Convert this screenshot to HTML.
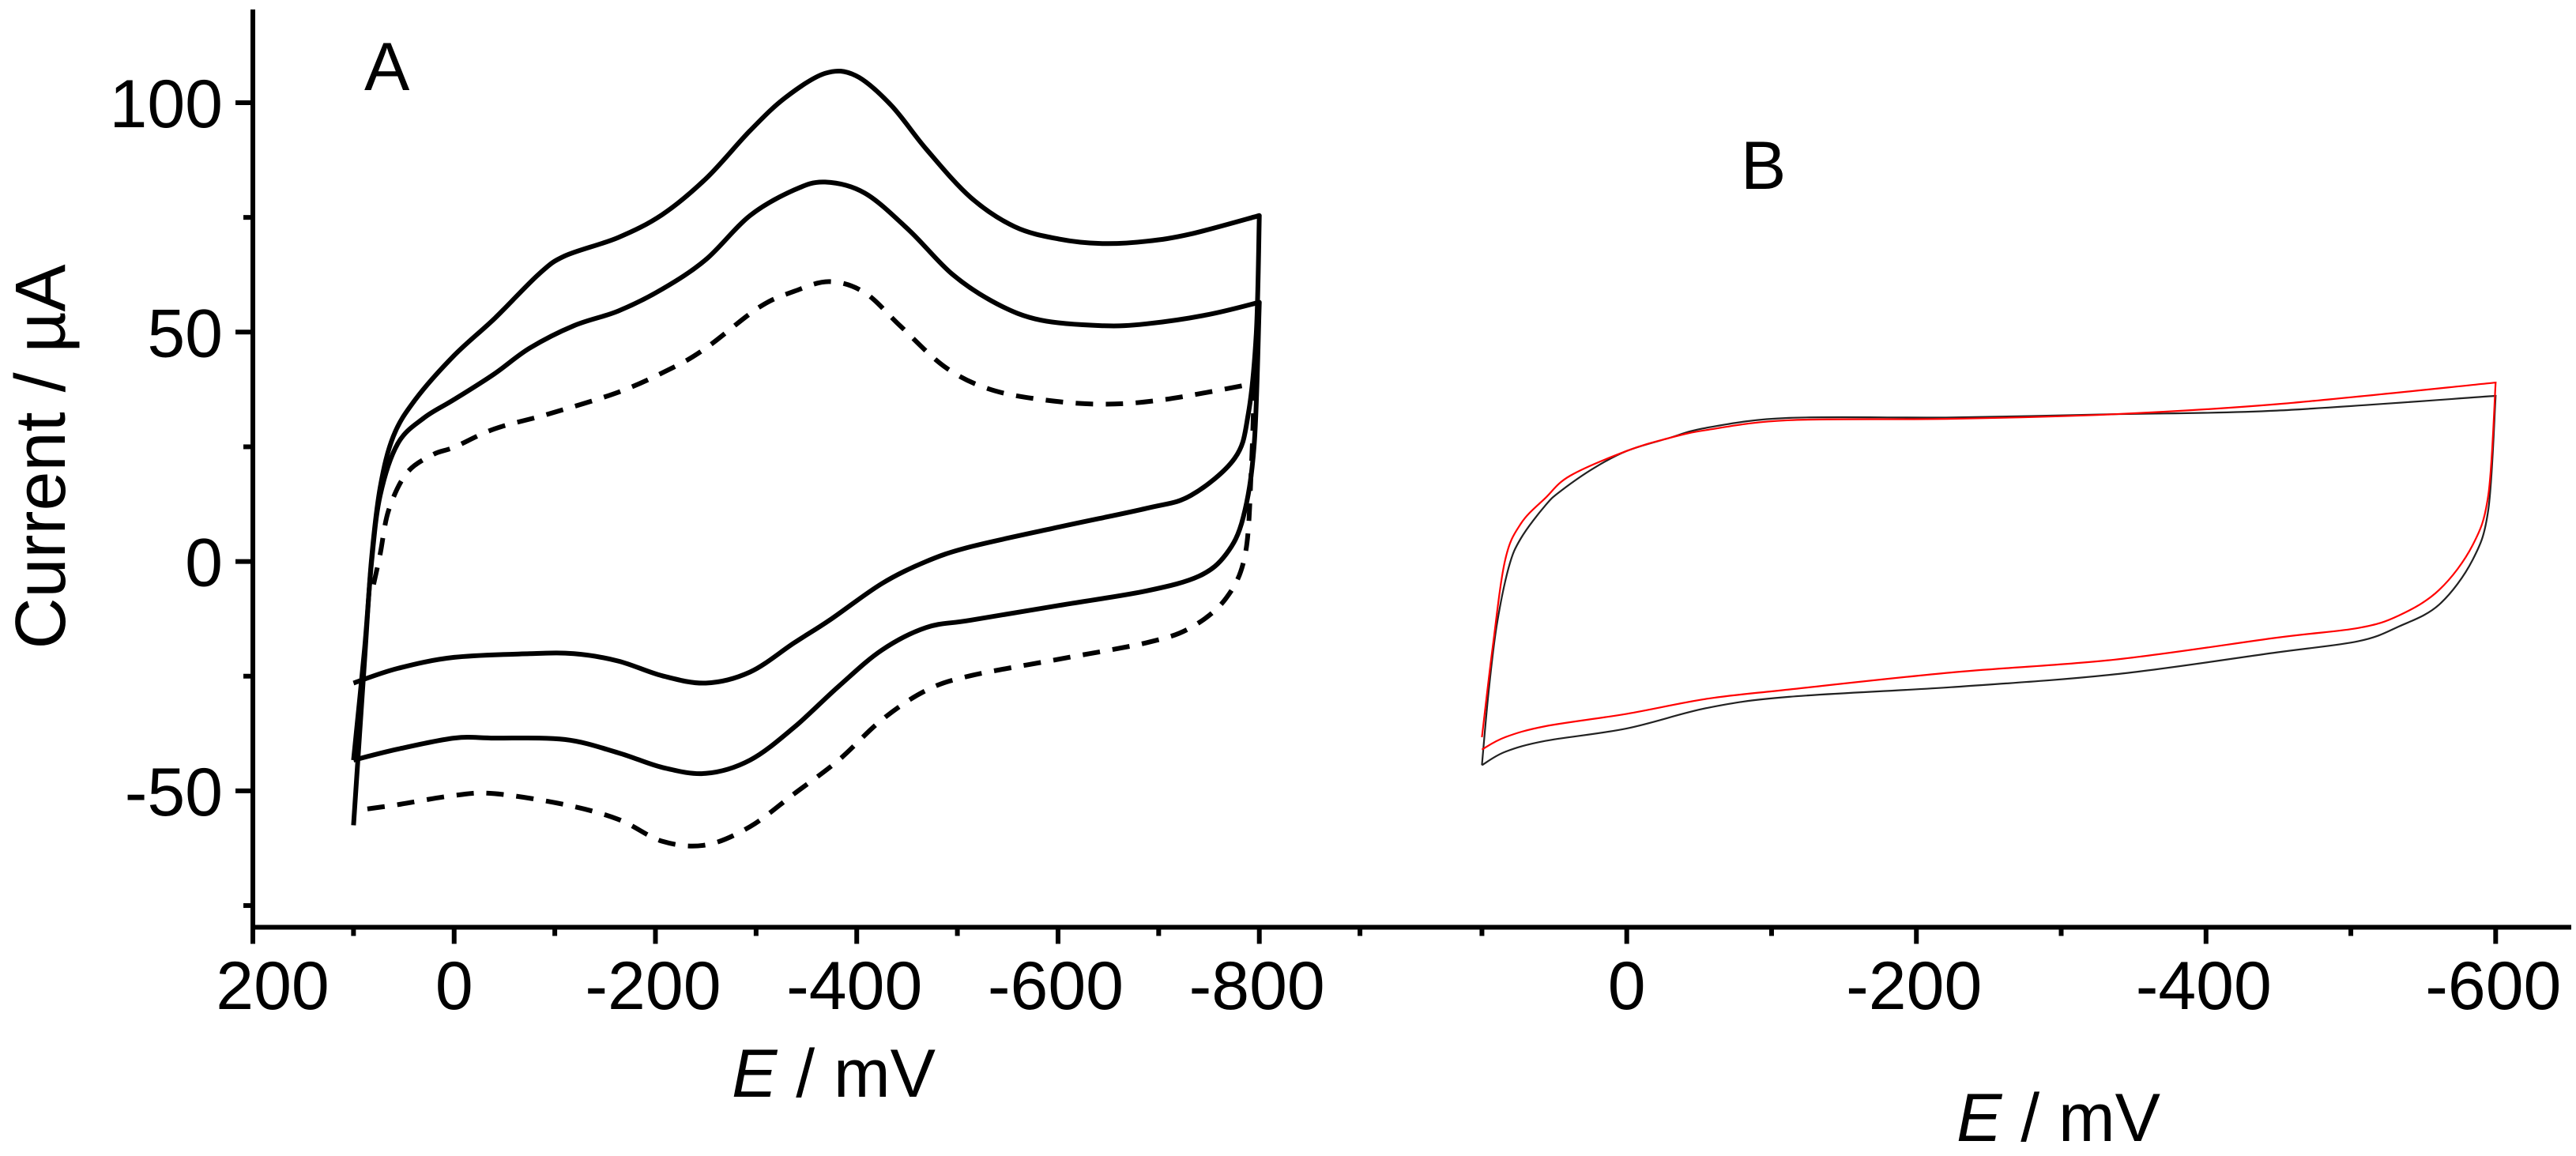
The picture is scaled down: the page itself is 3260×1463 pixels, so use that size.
<!DOCTYPE html>
<html><head><meta charset="utf-8"><style>
html,body{margin:0;padding:0;background:#fff;}
svg{display:block;}
text{font-family:"Liberation Sans",sans-serif;fill:#000;}
</style></head><body>
<svg id="chart" width="3260" height="1463" viewBox="0 0 3260 1463" xmlns="http://www.w3.org/2000/svg">
<g id="axes"></g>
<g id="plotA"></g>
<g id="plotB"></g>
<text x="461" y="114" font-size="86">A</text>
<text x="2203" y="239" font-size="86">B</text>
<text transform="translate(82,578) rotate(-90)" text-anchor="middle" font-size="90">Current / µA</text>
<text x="1055" y="1388" text-anchor="middle" font-size="86"><tspan font-style="italic">E</tspan> / mV</text>
<text x="2605" y="1444" text-anchor="middle" font-size="86"><tspan font-style="italic">E</tspan> / mV</text>
</svg>
<script>
// ---- data ----
const aOuterE=[100,89.3,82.3,73.5,60.4,38.5,0,-40.3,-84,-110,-162.8,-206.6,-250.4,-294,-329,-368.5,-399,-434,-469,-513,-556.8,-600.6,-644,-688,-732,-800,-800,-797,-789,-775.5,-732,-688,-600.6,-513,-469,-425,-373,-338,-294,-250,-206.6,-163,-119,-75,0,56,100];
const aOuterI=[-57.5,-22.5,0,16.1,27.3,35.3,44.9,53,62.6,66.6,70.6,75.6,83.5,93.9,101.1,106.4,105.9,99.5,89.9,79.4,73,70.3,69.3,69.8,71.4,75.4,75.4,49.8,32.1,22.5,14.4,11.6,7.5,3.2,0,-4.8,-12.8,-17.7,-24.1,-26.5,-24.9,-21.7,-20.1,-20.1,-20.9,-23.3,-26.5];
const aMidE=[100,89,82,73.5,56,30,0,-40,-75,-119,-163,-207,-250,-294,-338,-368.5,-408,-452,-495,-539,-583,-644,-688,-749,-800,-800,-795,-784,-767,-740,-688,-600.6,-513,-469,-425,-381.6,-338,-294,-250,-207,-163,-110,-40,0,56,100];
const aMidI=[-43.3,-19,0,14.4,25.7,31.3,35.3,40.9,46.5,51.4,54.6,59.4,65.8,75.4,81,82.7,80.3,72.2,62.6,56.2,52.6,51.4,51.8,53.8,56.5,56.5,25.7,9.6,1.6,-3.2,-6.4,-9.6,-12.8,-14.4,-19.3,-27.3,-36.1,-43.3,-46.2,-44.9,-41.7,-38.8,-38.5,-38.5,-40.9,-43.3];
const aDashE=[80,73.5,65,47,21,0,-40,-93,-163,-215,-250,-303,-338,-373,-408,-443,-487,-530,-583,-644,-706,-795,-795,-792,-786,-767,-732,-688,-600.6,-513,-469,-425,-382,-338,-294,-250,-207,-163,-110,-40,0,56,95];
const aDashI=[-5,1.6,11.2,19.3,23.3,24.9,28.9,32.1,36.9,42,46.5,55.4,58.9,61,58.6,51.4,42.5,37.7,35.3,34.3,35.3,38.8,38.8,20,1.6,-8,-14.4,-17.7,-21.3,-24.9,-28.1,-34.5,-43.3,-50.6,-57.8,-61.8,-61,-56.2,-53,-50.6,-51,-53,-54.2];
const bBlackE=[100,100,95.5,89.9,81.5,73,56,45,22.5,0,-28,-56,-112,-224,-337,-449,-600,-600,-595,-584,-561,-533,-505,-449,-337,-224,-112,-56,0,56,84,100];
const bBlackI=[-44.4,-44.4,-28.7,-14.2,-1.3,5.1,12.3,15.5,20.4,24.1,26.8,29.2,31.3,31.4,32.1,32.9,36.1,36.1,11.5,0.3,-9.4,-14.2,-17.4,-19.8,-24.6,-27.4,-29.5,-31.9,-36.4,-39.1,-41.5,-44.4];
const bRedE=[100,100,92.7,84,73,56,39,0,-28,-56,-112,-224,-337,-449,-600,-600,-595,-584,-561,-533,-505,-449,-337,-224,-112,-56,0,56,84,100];
const bRedI=[-38.3,-38.3,-19,0.3,8.3,13.9,18.7,24.1,26.8,28.7,30.8,31.1,32.1,34.3,39.0,39.0,14.7,3.5,-6.2,-11.8,-14.5,-16.6,-21.4,-24.2,-27.9,-29.9,-33.2,-35.9,-38.3,-41.0];
const yTicks=[100,50,0,-50];
const yMinor=[75,25,-25,-75];
const xTicksA=[200,0,-200,-400,-600,-800];
const xMinorA=[100,-100,-300,-500,-700,-900];
const xTicksB=[0,-200,-400,-600];
const xMinorB=[100,-100,-300,-500];

// ---- scales ----
const xA=e=>320+(200-e)*1.2737;
const xB=e=>2058.7-e*1.8327;
const yS=i=>710.6-i*5.806;
const NS='http://www.w3.org/2000/svg';
function mk(tag,attrs,parent){const el=document.createElementNS(NS,tag);for(const k in attrs)el.setAttribute(k,attrs[k]);parent.appendChild(el);return el;}
const axes=document.getElementById('axes');
const AXY=1173.5;
let el;
el=mk('line',{x1:320,y1:12,x2:320,y2:1176.5,stroke:'#000','stroke-width':6},axes);


el=mk('line',{x1:317,y1:AXY,x2:3254,y2:AXY,stroke:'#000','stroke-width':6},axes);


yTicks.forEach(v=>{
  const t=mk('line',{x1:298,y1:yS(v),x2:320,y2:yS(v),stroke:'#000','stroke-width':6},axes);
  
  
  const l=mk('text',{x:282,y:yS(v)+31,'text-anchor':'end','font-size':86},axes);
  l.textContent=String(v);
  
  
});
yMinor.forEach(v=>{
  const t=mk('line',{x1:308,y1:yS(v),x2:320,y2:yS(v),stroke:'#000','stroke-width':6},axes);
  
  
});
function xt(list,f,len,lab){
  list.forEach(v=>{
    const t=mk('line',{x1:f(v),y1:AXY,x2:f(v),y2:AXY+len,stroke:'#000','stroke-width':6},axes);
    
    
    if(lab){
      const dx=(v===200)?25:(v<0?-3:0);
      const l=mk('text',{x:f(v)+dx,y:1277,'text-anchor':'middle','font-size':86},axes);
      l.textContent=String(v);
      
      
    }
  });
}
xt(xTicksA,xA,21,true);xt(xMinorA,xA,11,false);
xt(xTicksB,xB,21,true);xt(xMinorB,xB,11,false);

// smooth each branch separately; duplicate E values mark a corner (straight join)
function smoothPath(E,I,fx){
  const pts=E.map((e,k)=>[fx(e),yS(I[k])]);
  const segs=[];let cur=[pts[0]];
  for(let k=1;k<pts.length;k++){
    if(E[k]===E[k-1]){segs.push(cur);cur=[pts[k]];}
    else cur.push(pts[k]);
  }
  segs.push(cur);
  let d='';
  segs.forEach((p,si)=>{
    d+=(si===0?'M':' L')+p[0][0].toFixed(1)+','+p[0][1].toFixed(1);
    for(let k=0;k<p.length-1;k++){
      const p0=p[k-1]||p[k],p1=p[k],p2=p[k+1],p3=p[k+2]||p2;
      const c1=[p1[0]+(p2[0]-p0[0])/6,p1[1]+(p2[1]-p0[1])/6];
      const c2=[p2[0]-(p3[0]-p1[0])/6,p2[1]-(p3[1]-p1[1])/6];
      d+=' C'+c1[0].toFixed(1)+','+c1[1].toFixed(1)+' '+c2[0].toFixed(1)+','+c2[1].toFixed(1)+' '+p2[0].toFixed(1)+','+p2[1].toFixed(1);
    }
  });
  return d;
}
const gA=document.getElementById('plotA');
el=mk('path',{d:smoothPath(aOuterE,aOuterI,xA),fill:'none',stroke:'#000','stroke-width':6,'stroke-linejoin':'round'},gA);


el=mk('path',{d:smoothPath(aMidE,aMidI,xA),fill:'none',stroke:'#000','stroke-width':6,'stroke-linejoin':'round'},gA);


el=mk('path',{d:smoothPath(aDashE,aDashI,xA),fill:'none',stroke:'#000','stroke-width':6,'stroke-dasharray':'22 16'},gA);


const gB=document.getElementById('plotB');
el=mk('path',{d:smoothPath(bBlackE,bBlackI,xB),fill:'none',stroke:'#222','stroke-width':2.2},gB);


el=mk('path',{d:smoothPath(bRedE,bRedI,xB),fill:'none',stroke:'#f00','stroke-width':2.2},gB);


</script>
</body></html>
